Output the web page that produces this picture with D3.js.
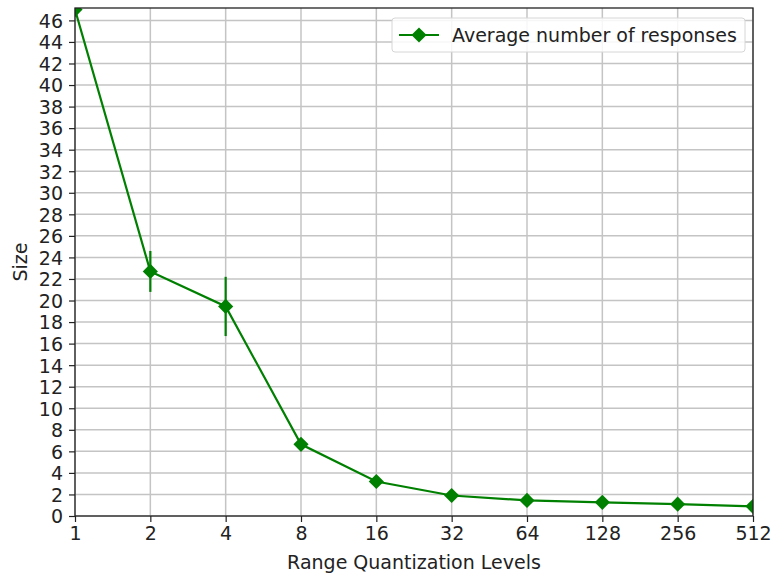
<!DOCTYPE html>
<html>
<head>
<meta charset="utf-8">
<script src="https://cdn.jsdelivr.net/npm/d3@7"></script>
<style>
  body { margin: 0; background: #fff; }
  text { font-family: "DejaVu Sans", sans-serif; }
</style>
</head>
<body>
<svg id="chart"></svg>
<script>
const levels = [1, 2, 4, 8, 16, 32, 64, 128, 256, 512];
const avgResponses = [47.0, 22.7, 19.45, 6.65, 3.2, 1.9, 1.45, 1.27, 1.1, 0.9];
const errResponses = [0, 1.9, 2.75, 0, 0, 0, 0, 0, 0, 0];
const yTicks = d3.range(0, 47, 2);

const width = 774, height = 578;
const margin = { left: 75, right: 21, top: 8, bottom: 62 };
const green = "#008000";
const fs = 19;

const svg = d3.select("#chart").attr("width", width).attr("height", height);

const x = d3.scaleLog().base(2)
    .domain([1, 512])
    .range([margin.left, width - margin.right]);
const y = d3.scaleLinear()
    .domain([0, 47.15])
    .range([height - margin.bottom, margin.top]);

// grid
svg.append("g")
    .selectAll("line.hg")
    .data(yTicks)
    .join("line")
    .attr("x1", margin.left).attr("x2", width - margin.right)
    .attr("y1", d => y(d)).attr("y2", d => y(d))
    .attr("stroke", "#c4c4c4").attr("stroke-width", 1.5);
svg.append("g")
    .selectAll("line.vg")
    .data(levels)
    .join("line")
    .attr("x1", d => x(d)).attr("x2", d => x(d))
    .attr("y1", margin.top).attr("y2", height - margin.bottom)
    .attr("stroke", "#c4c4c4").attr("stroke-width", 1.5);

// axes
const xAxis = svg.append("g")
    .attr("transform", `translate(0,${height - margin.bottom})`)
    .call(d3.axisBottom(x).tickValues(levels).tickFormat(d3.format("d")).tickSize(6).tickPadding(5));
const yAxis = svg.append("g")
    .attr("transform", `translate(${margin.left},0)`)
    .call(d3.axisLeft(y).tickValues(yTicks).tickSize(6).tickPadding(6));
[xAxis, yAxis].forEach(a => {
    a.select(".domain").remove();
    a.selectAll("text").attr("font-size", fs).attr("fill", "#222");
    a.selectAll("line").attr("stroke", "#222").attr("stroke-width", 1.2);
});
yAxis.selectAll("text").attr("dy", "0.36em");

svg.append("clipPath").attr("id", "clip")
    .append("rect")
    .attr("x", margin.left).attr("y", margin.top)
    .attr("width", width - margin.left - margin.right)
    .attr("height", height - margin.top - margin.bottom);

const data = levels.map((l, i) => ({ l: l, v: avgResponses[i], e: errResponses[i] }));

const plot = svg.append("g").attr("clip-path", "url(#clip)");

// error bars
plot.selectAll("line.err")
    .data(data.filter(d => d.e > 0))
    .join("line")
    .attr("x1", d => x(d.l)).attr("x2", d => x(d.l))
    .attr("y1", d => y(d.v + d.e)).attr("y2", d => y(d.v - d.e))
    .attr("stroke", green).attr("stroke-width", 2.2);

plot.append("path")
    .datum(data)
    .attr("fill", "none")
    .attr("stroke", green)
    .attr("stroke-width", 2.2)
    .attr("d", d3.line().x(d => x(d.l)).y(d => y(d.v)));

const diamond = d3.symbol().type(d3.symbolSquare).size(115);
plot.selectAll("path.pt")
    .data(data)
    .join("path")
    .attr("d", diamond)
    .attr("transform", d => `translate(${x(d.l)},${y(d.v)}) rotate(45)`)
    .attr("fill", green);

// spines
svg.append("rect")
    .attr("x", margin.left).attr("y", margin.top)
    .attr("width", width - margin.left - margin.right)
    .attr("height", height - margin.top - margin.bottom)
    .attr("fill", "none").attr("stroke", "#222").attr("stroke-width", 1.3);

// legend
const lg = svg.append("g").attr("transform", "translate(392,18)");
lg.append("rect")
    .attr("width", 353).attr("height", 34).attr("rx", 3)
    .attr("fill", "white").attr("fill-opacity", 0.85)
    .attr("stroke", "#d6d6d6");
lg.append("line")
    .attr("x1", 7).attr("x2", 47).attr("y1", 17).attr("y2", 17)
    .attr("stroke", green).attr("stroke-width", 2.2);
lg.append("path")
    .attr("d", diamond)
    .attr("transform", "translate(27,17) rotate(45)")
    .attr("fill", green);
lg.append("text")
    .attr("x", 60).attr("y", 24)
    .attr("font-size", fs).attr("fill", "#222")
    .text("Average number of responses");

// axis labels
svg.append("text")
    .attr("x", (margin.left + width - margin.right) / 2).attr("y", 569)
    .attr("text-anchor", "middle").attr("font-size", fs).attr("fill", "#222")
    .text("Range Quantization Levels");
svg.append("text")
    .attr("transform", `translate(27,${(margin.top + height - margin.bottom) / 2}) rotate(-90)`)
    .attr("text-anchor", "middle").attr("font-size", fs).attr("fill", "#222")
    .text("Size");
</script>
</body>
</html>
